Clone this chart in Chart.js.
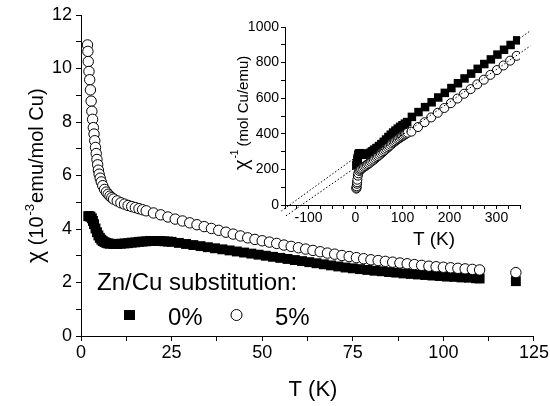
<!DOCTYPE html>
<html>
<head>
<meta charset="utf-8">
<script src="https://cdn.jsdelivr.net/npm/chart.js@4/dist/chart.umd.min.js"></script>
<style>
  html,body{margin:0;padding:0;background:#fff;}
  #wrap{position:relative;width:550px;height:406px;}
  #main{position:absolute;left:0;top:0;}
  #inset{position:absolute;left:200px;top:0;}
</style>
</head>
<body>
<div id="wrap">
<canvas id="main" width="550" height="406" style="width:550px;height:406px"></canvas>
<canvas id="inset" width="340" height="250" style="width:340px;height:250px"></canvas>
</div>
<script>
// ---------- Main panel: chi (10^-3 emu/mol Cu) vs T (K) ----------
// 0 % Zn (filled squares)
const T0 = [2.0,2.3,2.6,3.0,3.3,3.6,4.0,4.4,4.8,5.2,5.6,6.0,6.5,7,7.5,8,9,10,11,12,13,14,15,16,17,18,19,20,21,22,23,24,25,
  27,29,31,33,35,37,39,41,43,45,47,49,51,53,55,57,59,61,63,65,67,69,71,73,75,77,79,81,83,85,87,89,91,93,95,97,99,101,103,105,107,109,110,120];
const CHI0 = [4.48,4.48,4.46,4.40,4.30,4.18,4.02,3.88,3.76,3.67,3.60,3.55,3.51,3.48,3.46,3.45,3.44,3.44,3.45,3.46,3.47,3.49,3.50,3.52,3.53,3.54,3.55,3.55,3.55,3.55,3.54,3.53,3.52,
  3.48,3.44,3.40,3.36,3.32,3.28,3.24,3.20,3.16,3.12,3.08,3.04,3.00,2.96,2.92,2.88,2.84,2.80,2.76,2.72,2.68,2.64,2.60,2.56,2.53,2.50,2.47,2.44,2.42,2.39,2.37,2.34,2.32,2.30,2.28,2.26,2.24,2.22,2.21,2.19,2.18,2.16,2.15,2.05];
// 5 % Zn (open circles)
const T5 = [1.8,1.9,2.0,2.2,2.4,2.6,2.8,3.0,3.2,3.4,3.6,3.8,4.0,4.2,4.4,4.6,4.8,5.0,5.3,5.6,6.0,6.5,7.0,7.5,8,8.5,9,10,11,12,13,14,15,16,17,18,
  20,22,24,26,28,30,32,34,36,38,40,42,44,46,48,50,52,54,56,58,60,62,64,66,68,70,72,74,76,78,80,82,84,86,88,90,92,94,96,98,100,102,104,106,108,110,120];
const CHI5 = [10.88,10.64,10.26,9.89,9.58,9.20,8.78,8.40,8.10,7.79,7.55,7.30,7.05,6.82,6.60,6.40,6.20,6.05,5.90,5.76,5.62,5.48,5.38,5.30,5.23,5.17,5.12,5.05,4.98,4.93,4.88,4.84,4.80,4.76,4.72,4.68,
  4.60,4.53,4.45,4.37,4.30,4.23,4.16,4.09,4.02,3.95,3.88,3.81,3.74,3.67,3.61,3.56,3.51,3.46,3.40,3.35,3.30,3.25,3.20,3.15,3.10,3.06,3.01,2.97,2.93,2.89,2.85,2.82,2.79,2.76,2.73,2.70,2.67,2.64,2.61,2.59,2.57,2.55,2.53,2.51,2.49,2.47,2.37];

// ---------- Inset: 1/chi (mol Cu/emu) vs T (K) ----------
const TI0 = [2.0,2.5,3.0,3.5,4.0,4.5,5,6,7,8,10,12,15,20,25,30,35,40,45,50,55,60,65,70,75,80,85,90,95,100,105,110,
  120,134,148,162,176,190,204,218,232,246,260,274,288,302,316,330,344];
const INV0 = [223,225,228,236,249,258,266,282,287,290,291,289,286,282,284,292,301,311,320,331,342,355,368,382,395,407,418,429,439,448,457,466,
  495,522,550,577,604,630,657,684,711,738,765,792,818,845,872,899,925];
const TI5 = [1.8,2,2.5,3,3.5,4,5,6,8,10,12,15,18,21,24,27,30,33,36,39,42,45,48,51,54,57,60,63,66,69,72,75,78,81,84,87,90,93,96,99,102,105,108,111,
  119,133,147,161,175,189,203,217,231,245,259,273,287,301,315,329,343];
const INV5 = [92,97,105,119,128,142,165,178,191,198,203,208,214,219,225,230,236,243,249,255,262,269,275,282,289,296,303,310,317,324,331,338,346,352,358,364,370,375,381,386,391,396,401,406,
  412,438,465,492,518,545,572,598,625,651,678,704,731,758,784,811,838];
// Curie-Weiss guide lines (end points)
const FIT0_T = [-158, 372], FIT0_V = [-34, 979];
const FIT5_T = [-148, 372], FIT5_V = [-61, 894];

// tick labels
const MAIN_X_LABELS = [0,25,50,75,100,125];
const MAIN_Y_LABELS = [0,2,4,6,8,10,12];
const INSET_X_LABELS = [-100,0,100,200,300];
const INSET_Y_LABELS = [0,200,400,600,800,1000];

const FONT = "'Liberation Sans', Arial, sans-serif";
const pts = (xs, ys) => xs.map((x, i) => ({x: x, y: ys[i]}));

function axisCfg(min, max, step, labels, size, fitProp, fitVal, tickLen, pad) {
  return {
    type: 'linear', min: min, max: max,
    afterFit(s) { s[fitProp] = fitVal; },
    ticks: {
      stepSize: step, autoSkip: false, maxRotation: 0, minRotation: 0,
      color: '#000', padding: pad, font: {family: FONT, size: size},
      callback: v => labels.includes(Math.round(v * 1000) / 1000) ? String(v) : ''
    },
    grid: {drawOnChartArea: false, drawTicks: true, tickLength: tickLen, color: '#000', tickColor: '#000', tickWidth: 1},
    border: {display: true, color: '#000', width: 1}
  };
}

const mainText = {
  id: 'mainText',
  afterDraw(chart) {
    const c = chart.ctx;
    c.save();
    c.fillStyle = '#000';
    c.textBaseline = 'alphabetic';
    // x title
    c.font = '22px ' + FONT;
    c.textAlign = 'center';
    c.fillText('T (K)', 313, 396);
    // y title
    c.save();
    c.translate(43, 263);
    c.rotate(-Math.PI / 2);
    c.textAlign = 'left';
    let x = 0;
    c.font = '23px ' + FONT; c.fillText('\u03C7', x, 0); x += c.measureText('\u03C7').width;
    c.font = '20px ' + FONT; c.fillText(' (10', x, 0); x += c.measureText(' (10').width;
    c.font = '13px ' + FONT; c.fillText('-3', x + 1, -9); x += c.measureText('-3').width + 2;
    c.font = '20px ' + FONT; c.fillText('emu/mol Cu)', x, 0);
    c.restore();
    // legend
    c.textAlign = 'left';
    c.font = '24px ' + FONT;
    c.fillText('Zn/Cu substitution:', 97, 290);
    c.fillRect(124, 310, 11, 10);
    c.fillText('0%', 168, 325);
    c.beginPath();
    c.arc(236.5, 315, 5.5, 0, Math.PI * 2);
    c.fillStyle = '#fff'; c.fill();
    c.strokeStyle = '#000'; c.lineWidth = 1; c.stroke();
    c.fillStyle = '#000';
    c.fillText('5%', 275, 325);
    c.restore();
  }
};

new Chart(document.getElementById('main'), {
  type: 'scatter',
  data: {
    datasets: [
      {label: '5%', data: pts(T5, CHI5), pointStyle: 'circle', pointRadius: 5.2, backgroundColor: '#fff', borderColor: '#000', borderWidth: 1},
      {label: '0%', data: pts(T0, CHI0), pointStyle: 'rect', pointRadius: 7, backgroundColor: '#000', borderColor: '#000', borderWidth: 0}
    ]
  },
  options: {
    responsive: false, animation: false, devicePixelRatio: 1,
    layout: {padding: {left: 0, right: 15, top: 15, bottom: 0}},
    plugins: {legend: {display: false}, tooltip: {enabled: false}},
    scales: {
      x: axisCfg(0, 125, 12.5, MAIN_X_LABELS, 18, 'height', 70, 5, 1),
      y: axisCfg(0, 12, 1, MAIN_Y_LABELS, 18, 'width', 81, 5, 4)
    }
  },
  plugins: [mainText]
});

const insetText = {
  id: 'insetText',
  afterDraw(chart) {
    const c = chart.ctx;
    c.save();
    c.fillStyle = '#000';
    c.textBaseline = 'alphabetic';
    c.font = '19px ' + FONT;
    c.textAlign = 'center';
    c.fillText('T (K)', 234, 245);
    c.save();
    c.translate(48, 170);
    c.rotate(-Math.PI / 2);
    c.textAlign = 'left';
    let x = 0;
    c.font = '20px ' + FONT; c.fillText('\u03C7', x, 0); x += c.measureText('\u03C7').width;
    c.font = '10px ' + FONT; c.fillText('-1', x + 1, -10); x += c.measureText('-1').width + 4;
    c.font = '15px ' + FONT; c.fillText('(mol Cu/emu)', x, 0);
    c.restore();
    c.restore();
  }
};

new Chart(document.getElementById('inset'), {
  type: 'scatter',
  data: {
    datasets: [
      {label: 'fit5', data: pts(FIT5_T, FIT5_V), showLine: true, pointRadius: 0, borderColor: '#000', borderWidth: 1, borderDash: [1.5, 2], clip: false},
      {label: 'fit0', data: pts(FIT0_T, FIT0_V), showLine: true, pointRadius: 0, borderColor: '#000', borderWidth: 1, borderDash: [1.5, 2], clip: false},
      {label: '5%', data: pts(TI5, INV5), pointStyle: 'circle', pointRadius: 4.5, backgroundColor: '#fff', borderColor: '#000', borderWidth: 1},
      {label: '0%', data: pts(TI0, INV0), pointStyle: 'rect', pointRadius: 6, backgroundColor: '#000', borderColor: '#000', borderWidth: 0}
    ]
  },
  options: {
    responsive: false, animation: false, devicePixelRatio: 1,
    layout: {padding: {left: 0, right: 20, top: 27, bottom: 0}},
    plugins: {legend: {display: false}, tooltip: {enabled: false}},
    scales: {
      x: axisCfg(-150, 350, 25, INSET_X_LABELS, 14, 'height', 45, 4, 1),
      y: axisCfg(0, 1000, 100, INSET_Y_LABELS, 14, 'width', 85, 4, 2)
    }
  },
  plugins: [insetText]
});
</script>
</body>
</html>
